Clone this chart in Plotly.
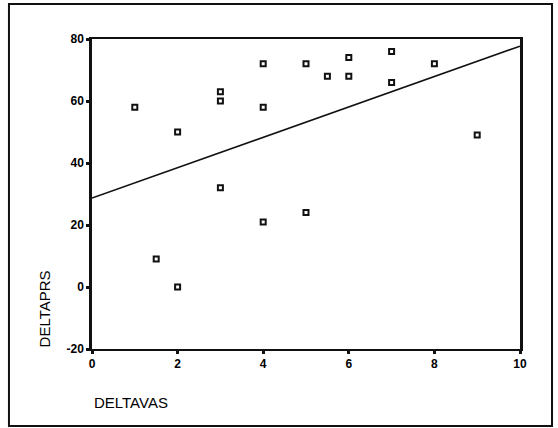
import plotly.graph_objects as go

# Data
deltavas = [1, 1.5, 2, 2, 3, 3, 3, 4, 4, 4, 5, 5, 5.5, 6, 6, 7, 7, 8, 9]
deltaprs = [58, 9, 50, 0, 63, 60, 32, 72, 58, 21, 72, 24, 68, 74, 68, 76, 66, 72, 49]

# Fitted line
fit_intercept = 28.7
fit_slope = 4.9
fit_x = [0, 10]
fit_y = [fit_intercept + fit_slope * x for x in fit_x]

x_ticks = [0, 2, 4, 6, 8, 10]
y_ticks = [-20, 0, 20, 40, 60, 80]

fig = go.Figure()
fig.add_trace(go.Scatter(
    x=fit_x, y=fit_y, mode="lines",
    line=dict(color="#111111", width=1.6),
    showlegend=False, hoverinfo="skip",
))
fig.add_trace(go.Scatter(
    x=deltavas, y=deltaprs, mode="markers",
    marker=dict(symbol="square-open", size=5, color="#111111",
                line=dict(width=2, color="#111111")),
    showlegend=False,
))

axis_font = dict(family="Arial, Liberation Sans, sans-serif", size=12, color="#000000")
fig.update_xaxes(
    range=[0, 10], tickvals=x_ticks, ticktext=["<b>%d</b>" % v for v in x_ticks],
    showgrid=False, zeroline=False, showline=True, linewidth=2, linecolor="#111111",
    mirror=True, ticks="outside", ticklen=3, tickwidth=3, tickcolor="#111111",
    tickfont=axis_font,
)
fig.update_yaxes(
    range=[-20, 80], tickvals=y_ticks, ticktext=["<b>%d</b>" % v for v in y_ticks],
    showgrid=False, zeroline=False, showline=True, linewidth=2.5, linecolor="#111111",
    mirror=True, ticks="outside", ticklen=3, tickwidth=3, tickcolor="#111111",
    tickfont=axis_font,
)

title_font = dict(family="Arial, Liberation Sans, sans-serif", size=15, color="#000000")
fig.update_layout(
    width=558, height=428,
    margin=dict(l=92, r=38, t=39, b=79),
    paper_bgcolor="white", plot_bgcolor="white",
    font=dict(family="Arial, Liberation Sans, sans-serif", color="#000000"),
    shapes=[dict(
        type="rect", xref="paper", yref="paper",
        x0=-0.194, x1=1.0748, y0=-0.248, y1=1.113,
        line=dict(color="#111111", width=2),
    )],
    annotations=[
        dict(text="DELTAVAS", xref="paper", yref="paper", x=0.0, y=-0.171,
             xanchor="left", yanchor="middle", showarrow=False, font=title_font),
        dict(text="DELTAPRS", xref="paper", yref="paper", x=-0.110, y=0.0,
             xanchor="center", yanchor="bottom", textangle=-90, showarrow=False,
             font=title_font),
    ],
)

fig.write_html(
    "out.html",
    config={"displayModeBar": False},
    post_script="document.body.style.margin='0';document.body.style.overflow='hidden';",
)
